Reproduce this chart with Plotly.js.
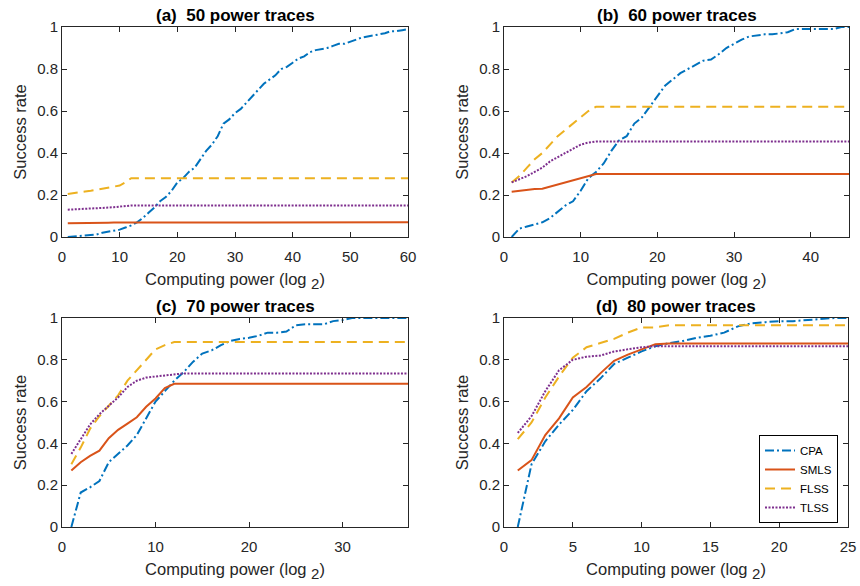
<!DOCTYPE html>
<html><head><meta charset="utf-8">
<script src="https://cdn.plot.ly/plotly-3.0.1.min.js"></script>
<style>html,body{margin:0;padding:0;background:#fff}</style>
</head><body><div id="chart" style="width:860px;height:586px"></div>
<script>
// ---- data ----
const seriesNames = ["CPA", "SMLS", "FLSS", "TLSS"];
const panelTitles = ["(a)\u00a0 50 power traces", "(b)\u00a0 60 power traces", "(c)\u00a0 70 power traces", "(d)\u00a0 80 power traces"];
const xMax = [60, 45, 37, 25];

// (a) 50 traces
const xA_cpa = [1,2,3,4,5,6,7,8,9,10,11,12,13,14,15,16,17,18,19,20,21,22,23,24,25,26,27,28,29,30,31,32,33,34,35,36,37,38,39,40,41,42,43,44,45,46,47,48,49,50,51,52,53,54,55,56,57,58,59,60];
const cpaA = [0.0,0.003,0.006,0.008,0.01,0.012,0.02,0.025,0.03,0.035,0.045,0.055,0.07,0.09,0.115,0.14,0.17,0.19,0.22,0.26,0.28,0.31,0.33,0.37,0.41,0.44,0.48,0.54,0.56,0.59,0.61,0.64,0.67,0.70,0.73,0.75,0.77,0.80,0.81,0.83,0.85,0.86,0.88,0.89,0.895,0.90,0.91,0.92,0.92,0.93,0.94,0.95,0.955,0.96,0.965,0.97,0.98,0.98,0.985,0.99];
const xA_ls = [1,2,3,4,5,6,7,8,9,10,11,12,60];
const smlsA = [0.065,0.065,0.066,0.066,0.067,0.067,0.068,0.068,0.069,0.069,0.07,0.07,0.07];
const flssA = [0.205,0.21,0.213,0.217,0.22,0.225,0.23,0.235,0.24,0.245,0.26,0.28,0.28];
const tlssA = [0.13,0.131,0.132,0.134,0.135,0.137,0.138,0.14,0.142,0.145,0.148,0.15,0.15];

// (b) 60 traces
const xB_cpa = [1,2,3,4,5,6,7,8,9,10,11,12,13,14,15,16,17,18,19,20,21,22,23,24,25,26,27,28,29,30,31,32,33,34,35,36,37,38,39,40,41,42,43,44,45];
const cpaB = [0,0.04,0.05,0.06,0.07,0.09,0.12,0.15,0.17,0.22,0.28,0.31,0.35,0.41,0.46,0.48,0.54,0.57,0.62,0.67,0.72,0.75,0.78,0.80,0.82,0.84,0.845,0.87,0.90,0.92,0.94,0.955,0.96,0.965,0.965,0.97,0.975,0.99,0.99,0.99,0.99,0.99,0.99,1.0,1.0];
const xB_ls = [1,2,3,4,5,6,7,8,9,10,11,12,45];
const smlsB = [0.215,0.22,0.225,0.228,0.23,0.24,0.25,0.26,0.27,0.28,0.29,0.30,0.30];
const flssB = [0.26,0.29,0.33,0.37,0.40,0.44,0.48,0.51,0.54,0.57,0.60,0.62,0.62];
const tlssB = [0.26,0.275,0.29,0.31,0.33,0.36,0.38,0.40,0.42,0.44,0.45,0.455,0.455];

// (c) 70 traces
const xC_cpa = [1,2,3,4,5,6,7,8,9,10,11,12,13,14,15,16,17,18,19,20,21,22,23,24,25,26,27,28,29,30,31,37];
const cpaC = [0,0.165,0.19,0.22,0.31,0.35,0.39,0.44,0.52,0.60,0.65,0.70,0.74,0.79,0.83,0.845,0.87,0.89,0.90,0.905,0.915,0.93,0.93,0.935,0.965,0.97,0.97,0.97,0.985,0.99,1.0,1.0];
const xC_ls = [1,2,3,4,5,6,7,8,9,10,11,12,13,37];
const smlsC = [0.27,0.31,0.34,0.365,0.425,0.465,0.495,0.525,0.575,0.615,0.665,0.685,0.685,0.685];
const flssC = [0.30,0.38,0.47,0.53,0.58,0.63,0.70,0.75,0.80,0.85,0.87,0.885,0.885,0.885];
const tlssC = [0.35,0.42,0.49,0.54,0.58,0.62,0.67,0.70,0.715,0.72,0.725,0.73,0.735,0.735];

// (d) 80 traces
const xD_cpa = [1,2,3,4,5,6,7,8,9,10,11,12,13,14,15,16,17,18,19,20,21,22,23,24,25];
const cpaD = [0,0.30,0.41,0.49,0.56,0.65,0.71,0.78,0.81,0.84,0.865,0.88,0.89,0.905,0.915,0.93,0.96,0.975,0.98,0.985,0.985,0.99,0.995,1.0,1.0];
const xD_ls = [1,2,3,4,5,6,7,8,9,10,11,12,25];
const smlsD = [0.27,0.32,0.44,0.52,0.62,0.67,0.735,0.795,0.825,0.85,0.875,0.878,0.878];
const flssD = [0.42,0.50,0.62,0.72,0.81,0.86,0.88,0.90,0.93,0.955,0.955,0.965,0.965];
const tlssD = [0.45,0.53,0.65,0.75,0.80,0.815,0.82,0.84,0.85,0.86,0.865,0.865,0.865];

const xTicks = [[0,10,20,30,40,50,60],[0,10,20,30,40],[0,10,20,30],[0,5,10,15,20,25]];
const yTicks = [0,0.2,0.4,0.6,0.8,1];

// ---- styling ----
const colors = ["#0072BD", "#D95319", "#EDB120", "#7E2F8E"];
const dashes = ["9px,3px,2px,3px", "solid", "10px,6px", "2px,1.5px"];
const panels = [
  {cpaX: xA_cpa, cpa: cpaA, lsX: xA_ls, sets: [smlsA, flssA, tlssA]},
  {cpaX: xB_cpa, cpa: cpaB, lsX: xB_ls, sets: [smlsB, flssB, tlssB]},
  {cpaX: xC_cpa, cpa: cpaC, lsX: xC_ls, sets: [smlsC, flssC, tlssC]},
  {cpaX: xD_cpa, cpa: cpaD, lsX: xD_ls, sets: [smlsD, flssD, tlssD]}
];

const W = 860, H = 586;
const boxes = [ // left, right, top, bottom in px
  [62, 408, 27, 237], [504, 849, 27, 237],
  [62, 408, 318, 527], [504, 848, 318, 527]
];
const font = "Liberation Sans, Arial, sans-serif";
const axCol = "#262626";

const traces = [];
const layout = {
  width: W, height: H,
  margin: {l: 0, r: 0, t: 0, b: 0},
  paper_bgcolor: "#fff", plot_bgcolor: "#fff",
  showlegend: true,
  legend: {x: 759/W, y: 1 - 523/H, xanchor: "left", yanchor: "bottom",
    bordercolor: "#000", borderwidth: 1, bgcolor: "#fff",
    font: {family: font, size: 11.5, color: "#000"},
    tracegroupgap: 0, itemwidth: 30},
  annotations: [],
  font: {family: font, color: axCol}
};

panels.forEach((p, i) => {
  const sfx = i === 0 ? "" : String(i + 1);
  const xa = "x" + sfx, ya = "y" + sfx;
  const ys = [p.cpa].concat(p.sets);
  const xs = [p.cpaX, p.lsX, p.lsX, p.lsX];
  ys.forEach((yv, k) => {
    traces.push({
      x: xs[k], y: yv, xaxis: xa, yaxis: ya, type: "scatter", mode: "lines",
      name: seriesNames[k], showlegend: i === 3, legendrank: k,
      line: {color: colors[k], width: 2, dash: dashes[k]},
      hoverinfo: "skip"
    });
  });
  const b = boxes[i];
  const common = {
    showgrid: false, zeroline: false, showline: true, linecolor: axCol, linewidth: 1,
    mirror: "ticks", ticks: "inside", ticklen: 5, tickwidth: 1, tickcolor: axCol,
    tickfont: {family: font, size: 15, color: axCol}
  };
  layout["xaxis" + sfx] = Object.assign({}, common, {
    domain: [b[0]/W, b[1]/W], anchor: ya, range: [0, xMax[i]],
    tickvals: xTicks[i], ticktext: xTicks[i].map(String), ticklabelstandoff: 6,
    title: {text: "Computing power (log <sub><span style=\"font-size:15px\">2</span></sub>)", font: {family: font, size: 16.5, color: axCol}, standoff: 9}
  });
  layout["yaxis" + sfx] = Object.assign({}, common, {
    domain: [1 - b[3]/H, 1 - b[2]/H], anchor: xa, range: [0, 1],
    tickvals: yTicks, ticktext: yTicks.map(String),
    title: {text: "Success rate", font: {family: font, size: 16.5, color: axCol}, standoff: 6}
  });
  layout.annotations.push({
    text: "<b>" + panelTitles[i] + "</b>", xref: "paper", yref: "paper",
    x: (b[0] + b[1]) / 2 / W, y: 1 - (b[2] - 12) / H, xanchor: "center", yanchor: "middle",
    showarrow: false, font: {family: font, size: 17, color: "#000"}
  });
});

Plotly.newPlot("chart", traces, layout, {displayModeBar: false, staticPlot: true});
</script></body></html>
